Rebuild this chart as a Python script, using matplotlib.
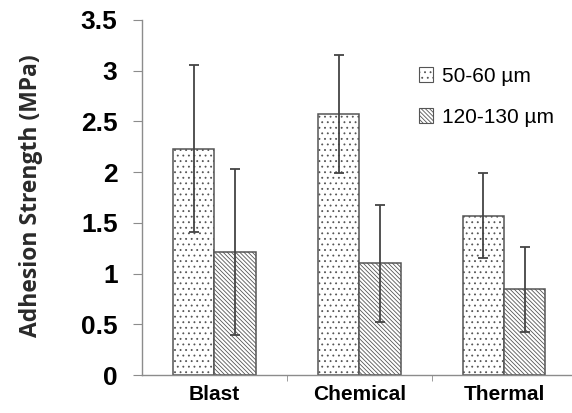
import matplotlib.pyplot as plt
import numpy as np
from matplotlib.patches import Patch

categories = ["Blast", "Chemical", "Thermal"]
series_labels = ["50-60 \u00b5m", "120-130 \u00b5m"]
fine_values = [2.23, 2.57, 1.57]
fine_errors = [0.82, 0.58, 0.42]
coarse_values = [1.21, 1.10, 0.845]
coarse_errors = [0.82, 0.58, 0.42]
y_ticks = [0, 0.5, 1, 1.5, 2, 2.5, 3, 3.5]
y_tick_labels = ["0", "0.5", "1", "1.5", "2", "2.5", "3", "3.5"]

EDGE = "#555555"
SPINE = "#8c8c8c"
DOTS = "..."
LINES = "\\" * 8
plt.rcParams["hatch.linewidth"] = 0.6

fig = plt.figure(figsize=(5.72, 4.13), dpi=100)
ax = fig.add_axes([0.248, 0.092, 0.76, 0.86])

x = np.arange(len(categories))
width = 0.285
err_kw = {"ecolor": "#444444", "elinewidth": 1.3, "capsize": 3.5, "capthick": 1.3}

ax.bar(x - width / 2, fine_values, width, yerr=fine_errors, color="white",
       edgecolor=EDGE, linewidth=1.1, hatch=DOTS, error_kw=err_kw)
ax.bar(x + width / 2, coarse_values, width, yerr=coarse_errors, color="white",
       edgecolor=EDGE, linewidth=1.1, hatch=LINES, error_kw=err_kw)

ax.set_xlim(-0.5, len(categories) - 0.5)
ax.set_ylim(0, 3.5)
ax.set_yticks(y_ticks)
ax.set_yticklabels(y_tick_labels, fontfamily="Liberation Sans", fontweight="bold", fontsize=19)
ax.set_xticks(x)
ax.set_xticklabels(categories, fontfamily="Liberation Sans", fontweight="bold", fontsize=15)
ax.set_xticks(x[:-1] + 0.5, minor=True)
ax.tick_params(axis="x", which="major", length=0, pad=7)
ax.tick_params(axis="x", which="minor", length=4, color=SPINE, direction="out")
ax.tick_params(axis="y", length=6.5, color=SPINE, pad=11)

for side in ("top", "right"):
    ax.spines[side].set_visible(False)
for side in ("left", "bottom"):
    ax.spines[side].set_color(SPINE)
    ax.spines[side].set_linewidth(1.0)

ax.set_ylabel("Adhesion Strength (MPa)", fontfamily="Open Sans", fontweight="bold",
              fontsize=16.5, color="#2a2a2a")
ax.yaxis.set_label_coords(-0.228, 0.504)

handles = [
    Patch(facecolor="white", edgecolor=EDGE, hatch=DOTS, linewidth=0.8),
    Patch(facecolor="white", edgecolor=EDGE, hatch=LINES, linewidth=0.8),
]
ax.legend(handles, series_labels, loc="upper left", bbox_to_anchor=(0.594, 0.92),
          frameon=False, handlelength=0.7, handleheight=0.7, handletextpad=0.4,
          labelspacing=1.05, prop={"family": "Liberation Sans", "size": 15})

fig.savefig("out.png", dpi=100)
